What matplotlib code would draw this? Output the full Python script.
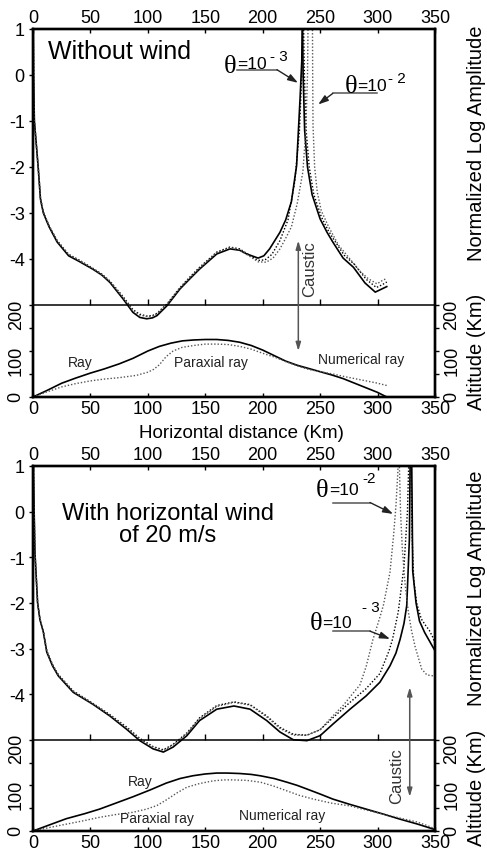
import matplotlib.pyplot as plt

plt.rcParams['font.family'] = ['Liberation Sans', 'DejaVu Sans']
plt.rcParams['axes.unicode_minus'] = False

# ---------------- panel a : without wind ----------------
# normalized log amplitude, numerical ray (solid), both sides of the caustic
a_ray_x1 = [0.2, 0.5, 1.2, 4.5, 6.5, 9, 14, 21, 31, 40, 52, 60, 67, 78.5, 87, 93, 99, 104, 108, 116.5,
            128, 137, 145, 160, 171.5, 180, 186, 196, 201, 206, 215, 220, 225, 229.5, 232.5, 234, 234.5]
a_ray_y1 = [1.2, 0.0, -1.0, -2.0, -2.7, -3.0, -3.3, -3.63, -3.93, -4.05, -4.22, -4.35, -4.51, -4.87, -5.16,
            -5.27, -5.30, -5.28, -5.23, -5.02, -4.65, -4.42, -4.22, -3.89, -3.78, -3.81, -3.89, -3.98, -3.93,
            -3.78, -3.42, -3.15, -2.75, -1.97, -0.52, 0.3, 1.2]
a_ray_x2 = [234.6, 235.2, 236.5, 239, 243, 250, 256, 261, 270, 279, 289, 298, 303, 308]
a_ray_y2 = [1.2, 0.0, -1.2, -2.0, -2.6, -3.13, -3.42, -3.63, -3.98, -4.18, -4.52, -4.72, -4.66, -4.6]

# paraxial, theta = 1e-3 (dotted)
a_p3_x1 = [0.2, 0.5, 1.2, 4.5, 6.5, 9, 14, 21, 31, 40, 52, 60, 67, 78.5, 87, 93, 99, 104, 108, 116.5,
           128, 137, 145, 160, 171.5, 180, 186, 196, 202, 208, 215, 222, 228, 232, 234, 235]
a_p3_y1 = [1.2, 0.0, -1.0, -2.0, -2.68, -2.98, -3.28, -3.6, -3.9, -4.02, -4.2, -4.33, -4.48, -4.82, -5.1,
           -5.2, -5.24, -5.23, -5.18, -4.98, -4.62, -4.38, -4.18, -3.85, -3.74, -3.78, -3.88, -4.03, -4.02,
           -3.9, -3.6, -3.15, -2.3, -1.2, 0.0, 1.2]
a_p3_x2 = [235.5, 236.3, 237.8, 240.5, 244.5, 251, 257, 262, 271, 280, 290, 299, 304, 308]
a_p3_y2 = [1.2, 0.0, -1.2, -2.0, -2.6, -3.08, -3.38, -3.58, -3.92, -4.12, -4.44, -4.62, -4.56, -4.5]

# paraxial, theta = 1e-2 (dotted)
a_p2_x1 = [0.2, 0.5, 1.2, 4.5, 6.5, 9, 14, 21, 31, 40, 52, 60, 67, 78.5, 87, 93, 99, 104, 108, 116.5,
           128, 137, 145, 160, 171.5, 180, 186, 196, 203, 209, 215, 220, 225, 230, 235, 237.5, 239, 239.5]
a_p2_y1 = [1.2, 0.0, -1.0, -2.0, -2.68, -2.98, -3.28, -3.6, -3.9, -4.03, -4.21, -4.34, -4.49, -4.84, -5.12,
           -5.22, -5.25, -5.24, -5.19, -4.99, -4.63, -4.4, -4.2, -3.86, -3.75, -3.8, -3.9, -4.06, -4.07,
           -3.98, -3.78, -3.55, -3.3, -2.8, -2.1, -1.2, 0.0, 1.2]
a_p2_x2 = [243.3, 243.5, 243.8, 245.2, 247.5, 251, 257, 266, 276, 284, 292, 299.5, 304, 308]
a_p2_y2 = [1.2, 0.0, -1.1, -2.0, -2.55, -2.95, -3.28, -3.7, -4.0, -4.25, -4.43, -4.54, -4.47, -4.42]

# altitude (km)
a_alt_ray_x = [0, 12, 25, 37, 50, 62, 75, 87, 100, 110, 120, 130, 140, 150, 160, 170, 180, 190, 200, 210,
               220, 230, 240, 250, 260, 270, 280, 290, 300, 308]
a_alt_ray_y = [0, 14, 30, 41, 52, 61, 72, 84, 100, 110, 117, 122, 124, 125, 125, 123, 119, 112, 102, 90,
               78, 69, 62, 55, 48, 40, 30, 20, 10, 0]
a_alt_par_x = [0, 12, 25, 37, 50, 62, 75, 90, 100, 105, 110, 116, 122, 130, 140, 150, 160, 170, 180, 190,
               200, 210, 220, 232, 240, 250, 261, 270, 280, 290, 300, 308]
a_alt_par_y = [0, 11, 22, 29, 35, 39, 42, 47, 54, 60, 70, 88, 100, 108, 112, 115, 115, 114, 110, 104,
               95, 87, 77, 66, 60, 55, 50, 45, 40, 35, 30, 25]

# ---------------- panel b : horizontal wind 20 m/s ----------------
b_ray_x1 = [0.2, 1.0, 1.7, 4, 6, 9, 12, 17, 22, 35, 52, 67, 81.5, 93, 104.6, 113.5, 122, 134, 145, 160,
            175, 189, 203.5, 215, 226.6, 238.5, 250, 261, 276, 290, 302, 310.8, 316, 319.6, 323, 325.4,
            327.7, 328.4]
b_ray_y1 = [1.2, 0.0, -0.9, -2.0, -2.36, -2.64, -3.08, -3.38, -3.6, -3.96, -4.22, -4.48, -4.77, -5.02,
            -5.2, -5.27, -5.16, -4.91, -4.58, -4.33, -4.26, -4.33, -4.58, -4.83, -5.0, -5.02, -4.91, -4.66,
            -4.33, -4.04, -3.74, -3.38, -3.1, -2.8, -2.45, -2.06, -0.6, 1.2]
b_ray_x2 = [329.7, 330.6, 333.5, 336.5, 341, 345.5, 350]
b_ray_y2 = [1.2, -1.3, -2.0, -2.4, -2.65, -2.85, -3.05]

b_p3_x1 = [0.2, 1.0, 1.7, 4, 6, 9, 12, 17, 22, 35, 52, 67, 81.5, 93, 104.6, 113.5, 122, 134, 145, 160,
           175, 189, 203.5, 215, 226.6, 238.5, 250, 261, 276, 290, 302, 310, 313, 318, 323, 326, 327.3]
b_p3_y1 = [1.2, 0.0, -0.9, -2.0, -2.35, -2.62, -3.05, -3.35, -3.57, -3.93, -4.2, -4.45, -4.72, -4.97,
           -5.15, -5.22, -5.1, -4.85, -4.52, -4.25, -4.17, -4.23, -4.48, -4.73, -4.88, -4.9, -4.78, -4.52,
           -4.18, -3.88, -3.55, -3.05, -2.8, -2.2, -1.2, 0.0, 1.2]
b_p3_x2 = [329, 330, 331.5, 334, 338, 342, 345, 348, 350]
b_p3_y2 = [1.2, -0.5, -1.5, -2.0, -2.35, -2.5, -2.6, -2.75, -2.9]

b_p2_x1 = [0.2, 1.0, 1.7, 4, 6, 9, 12, 17, 22, 35, 52, 67, 81.5, 93, 104.6, 113.5, 122, 134, 145, 160,
           175, 189, 203.5, 215, 226.6, 238.5, 250, 261, 270, 278, 284.6, 290, 296, 301, 305, 310.8, 314,
           316, 317.5, 318.2]
b_p2_y1 = [1.2, 0.0, -0.9, -2.0, -2.35, -2.63, -3.06, -3.36, -3.58, -3.94, -4.21, -4.46, -4.74, -4.99,
           -5.17, -5.24, -5.12, -4.87, -4.54, -4.27, -4.18, -4.24, -4.5, -4.75, -4.9, -4.9, -4.78, -4.48,
           -4.25, -4.0, -3.8, -3.4, -2.8, -2.4, -2.06, -1.33, -0.5, 0.13, 0.8, 1.2]
b_p2_x2 = [318.8, 320, 321.5, 324, 326.8, 329.5, 332.6, 338.4, 343, 348.5, 350]
b_p2_y2 = [1.2, 0.0, -0.8, -1.6, -2.2, -2.6, -2.95, -3.45, -3.58, -3.6, -3.6]

b_alt_ray_x = [0, 15, 29, 45, 58, 72, 87, 102, 116, 128, 139, 150, 160, 169, 180, 190, 198, 210, 221, 230,
               238.5, 250, 261, 275, 290, 305, 319.5, 335, 350]
b_alt_ray_y = [0, 14, 27, 38, 48, 61, 75, 90, 105, 115, 121, 125, 127, 127, 126, 124, 121, 115, 107, 100,
               92, 81, 70, 59, 48, 37, 26, 15, 3]
b_alt_par_x = [0, 15, 29, 45, 58, 72, 87, 99, 108, 116, 125, 134, 145, 157, 166, 174, 186, 198, 210, 221,
               232, 244, 260, 276, 290, 305, 320, 334, 342, 350]
b_alt_par_y = [0, 8, 15, 23, 30, 36, 41, 48, 56, 68, 83, 96, 104, 110, 112, 112, 111, 107, 98, 88,
               78, 70, 61, 55, 46, 37, 28, 20, 13, 5]

x_ticks = [0, 50, 100, 150, 200, 250, 300, 350]
amp_ticks = [1, 0, -1, -2, -3, -4]
alt_ticks = [0, 100, 200]
alt_minor = [50, 150]

dot = (0, (1, 1.4))
grey = '#555555'


def panel(ax, ray, p3, p2, alt_ray, alt_par):
    ax.set_xlim(0, 350)
    ax.set_ylim(-7, 1)
    for x, y in ray:
        ax.plot(x, y, color='k', lw=1.2)
    for x, y in p3:
        ax.plot(x, y, color='k', lw=1.0, ls=dot)
    for x, y in p2:
        ax.plot(x, y, color=grey, lw=1.0, ls=dot)
    # separator between amplitude and altitude parts
    ax.axhline(-5, color='k', lw=1.1)
    ax.plot(x_ticks[1:-1], [-5] * (len(x_ticks) - 2), ls='', marker=2, ms=4, mew=1, color='k')

    ax.set_xticks(x_ticks)
    ax.set_yticks(amp_ticks)
    ax.tick_params(axis='x', top=True, labeltop=True, direction='in', length=3, width=1,
                   labelsize=13, pad=2)
    ax.tick_params(axis='y', left=True, right=True, labelleft=True, labelright=True,
                   direction='out', length=3, width=1, labelsize=13, pad=3)
    for t in ax.yaxis.get_major_ticks():
        t.label2.set_fontweight('bold')
    for s in ax.spines.values():
        s.set_linewidth(1.7)

    alt = ax.twinx()
    alt.set_ylim(0, 800)
    alt.plot(alt_ray[0], alt_ray[1], color='k', lw=1.2)
    alt.plot(alt_par[0], alt_par[1], color=grey, lw=1.0, ls=dot)
    alt.set_yticks(alt_ticks)
    alt.set_yticks(alt_minor, minor=True)
    alt.tick_params(axis='y', which='both', left=True, right=True, labelleft=True, labelright=True,
                    direction='out', length=3, width=1, labelsize=13, labelrotation=90, pad=3)
    for s in alt.spines.values():
        s.set_linewidth(1.7)
    return alt


def theta(ax, th, eq, sup, line, tip, fromleft):
    ax.text(th[0], th[1], 'θ', family=['Liberation Serif', 'DejaVu Serif'], fontsize=19,
            ha='right', va='baseline')
    ax.text(eq[0], eq[1], '=10', fontsize=12.5, ha='left', va='baseline')
    ax.text(sup[0], sup[1], sup[2], fontsize=11, ha='left', va='baseline')
    ax.plot([line[0], line[1]], [line[2], line[2]], color=grey, lw=1.1)
    start = (line[0], line[2]) if fromleft else (line[1], line[2])
    ax.annotate('', xy=tip, xytext=start,
                arrowprops=dict(arrowstyle='-|>,head_length=0.6,head_width=0.2', color='#222222',
                                lw=1.0, shrinkA=0, shrinkB=0))


def caustic(ax, alt, x, y_top, alt_bottom, tx, ty):
    ax.annotate('', xy=(x, y_top), xycoords=ax.transData,
                xytext=(x, alt_bottom), textcoords=alt.transData,
                arrowprops=dict(arrowstyle='<|-|>,head_length=0.5,head_width=0.15', color=grey,
                                lw=1.1, shrinkA=0, shrinkB=0))
    ax.text(tx, ty, 'Caustic', rotation=90, fontsize=12, ha='center', va='center', color='#333333')


fig = plt.figure(figsize=(4.87, 8.54), dpi=100)
ax_a = fig.add_axes([33 / 487, 1 - 398 / 854, 402 / 487, 368 / 854])
ax_b = fig.add_axes([33 / 487, 1 - 832 / 854, 402 / 487, 365 / 854])

alt_a = panel(ax_a,
              [(a_ray_x1, a_ray_y1), (a_ray_x2, a_ray_y2)],
              [(a_p3_x1, a_p3_y1), (a_p3_x2, a_p3_y2)],
              [(a_p2_x1, a_p2_y1), (a_p2_x2, a_p2_y2)],
              (a_alt_ray_x, a_alt_ray_y), (a_alt_par_x, a_alt_par_y))
alt_b = panel(ax_b,
              [(b_ray_x1, b_ray_y1), (b_ray_x2, b_ray_y2)],
              [(b_p3_x1, b_p3_y1), (b_p3_x2, b_p3_y2)],
              [(b_p2_x1, b_p2_y1), (b_p2_x2, b_p2_y2)],
              (b_alt_ray_x, b_alt_ray_y), (b_alt_par_x, b_alt_par_y))

# panel a annotations
ax_a.text(13, 0.52, 'Without wind', fontsize=18, ha='left', va='center')
theta(ax_a, (176.7, 0.07), (178, 0.16), (206, 0.33, '- 3'), (177.6, 212.4, 0.115), (230.7, -0.17), False)
theta(ax_a, (282, -0.37), (282.5, -0.33), (309, -0.15, '- 2'), (261, 299.5, -0.40), (248.3, -0.64), True)
caustic(ax_a, alt_a, 231, -3.6, 100, 241, -4.2)
alt_a.text(41, 76, 'Ray', fontsize=10, ha='center', va='center', color='#222222')
alt_a.text(155, 76, 'Paraxial ray', fontsize=10, ha='center', va='center', color='#222222')
alt_a.text(286, 83, 'Numerical ray', fontsize=10, ha='center', va='center', color='#222222')

# panel b annotations
ax_b.text(117.5, -0.27, 'With horizontal wind\nof 20 m/s', fontsize=17, ha='center', va='center',
          linespacing=1.05)
theta(ax_b, (256.8, 0.34), (258, 0.39), (286.4, 0.65, '-2'), (261.2, 293.4, 0.20), (313.5, -0.05), False)
theta(ax_b, (251.6, -2.57), (252, -2.53), (286.4, -2.18, '- 3'), (261.2, 293.4, -2.62), (310.8, -2.79), False)
caustic(ax_b, alt_b, 328, -3.85, 75, 317, -5.78)
alt_b.text(93, 110, 'Ray', fontsize=10, ha='center', va='center', color='#222222')
alt_b.text(108, 28, 'Paraxial ray', fontsize=10, ha='center', va='center', color='#222222')
alt_b.text(217, 35, 'Numerical ray', fontsize=10, ha='center', va='center', color='#222222')

# axis titles
fig.text(477 / 487, 1 - 143 / 854, 'Normalized Log Amplitude', rotation=90, fontsize=14.5,
         ha='center', va='center')
fig.text(477 / 487, 1 - 352 / 854, 'Altitude (Km)', rotation=90, fontsize=14.5, ha='center', va='center')
fig.text(477 / 487, 1 - 588 / 854, 'Normalized Log Amplitude', rotation=90, fontsize=14.5,
         ha='center', va='center')
fig.text(477 / 487, 1 - 788 / 854, 'Altitude (Km)', rotation=90, fontsize=14.5, ha='center', va='center')
fig.text(241 / 487, 1 - 434 / 854, 'Horizontal distance (Km)', fontsize=13.5, ha='center', va='center')

fig.savefig('out.png', dpi=100)
